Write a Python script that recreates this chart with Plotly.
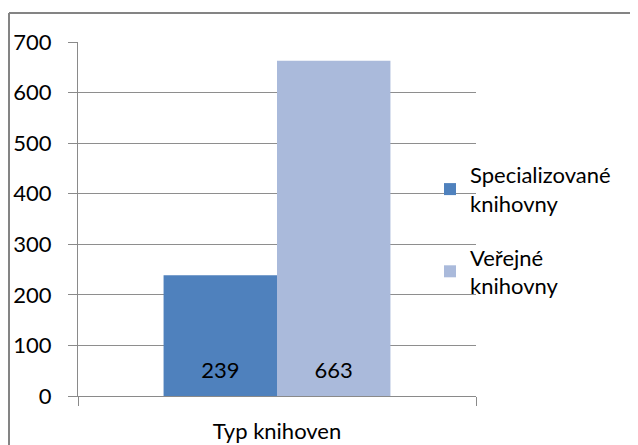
import plotly.graph_objects as go

categories = ["Typ knihoven"]
series_names = ["Specializované<br>knihovny", "Veřejné<br>knihovny"]
series_values = [[239], [663]]
series_colors = ["#4F81BD", "#AABADB"]
y_ticks = [0, 100, 200, 300, 400, 500, 600, 700]

FONT = "Lato"

fig = go.Figure()
for i, (name, vals, col) in enumerate(zip(series_names, series_values, series_colors)):
    fig.add_trace(go.Bar(
        x=categories, y=vals, name=name, legendgroup=f"g{i}",
        marker=dict(color=col, line=dict(width=0)),
        text=[f"<span style='font-size:22px'>{v}</span><br>\u00a0" for v in vals],
        textposition="inside", insidetextanchor="start",
        textfont=dict(family=FONT, size=10, color="#000000"),
        hoverinfo="skip",
    ))

# page body has an 8px margin; figure coords = page coords - 8
W, H = 630, 437
L, T = 70, 34
pw, ph = 398, 354
R, B = W - L - pw, H - T - ph
bx = (1 - L) / pw
by = (T + ph - 5) / ph

fig.update_layout(
    width=W, height=H,
    margin=dict(l=L, r=R, t=T, b=B, pad=0, autoexpand=False),
    paper_bgcolor="white", plot_bgcolor="white",
    barmode="group", bargap=0.43, bargroupgap=0,
    font=dict(family=FONT, size=22, color="#000000"),
    showlegend=True,
    legend=dict(x=(422 - L) / pw, y=(T + ph - 146) / ph, xanchor="left", yanchor="top",
                font=dict(family=FONT, size=22, color="#000000"),
                bgcolor="rgba(0,0,0,0)", borderwidth=0, itemwidth=30,
                tracegroupgap=22),
    xaxis=dict(
        type="category", showgrid=False, showline=True, linecolor="#8A8A8A", linewidth=1,
        ticks="outside", tickson="boundaries", ticklen=9, tickcolor="#8A8A8A",
        tickfont=dict(family=FONT, size=22, color="#000000"),
        ticklabelstandoff=16, zeroline=False, automargin=False,
    ),
    yaxis=dict(
        range=[0, 700], tickvals=y_ticks, ticktext=[str(v) for v in y_ticks],
        showgrid=True, gridcolor="#8E8E8E", gridwidth=1,
        showline=True, linecolor="#8A8A8A", linewidth=1,
        ticks="outside", ticklen=9, tickcolor="#8A8A8A",
        tickfont=dict(family=FONT, size=22, color="#000000"),
        ticklabelstandoff=12, zeroline=False, automargin=False,
    ),
    shapes=[
        dict(type="line", xref="paper", yref="paper", x0=bx, x1=bx, y0=-0.5, y1=by,
             line=dict(color="#848484", width=2)),
        dict(type="line", xref="paper", yref="paper", x0=bx, x1=1.6, y0=by, y1=by,
             line=dict(color="#848484", width=2)),
    ],
)

fig.write_html("out.html")
